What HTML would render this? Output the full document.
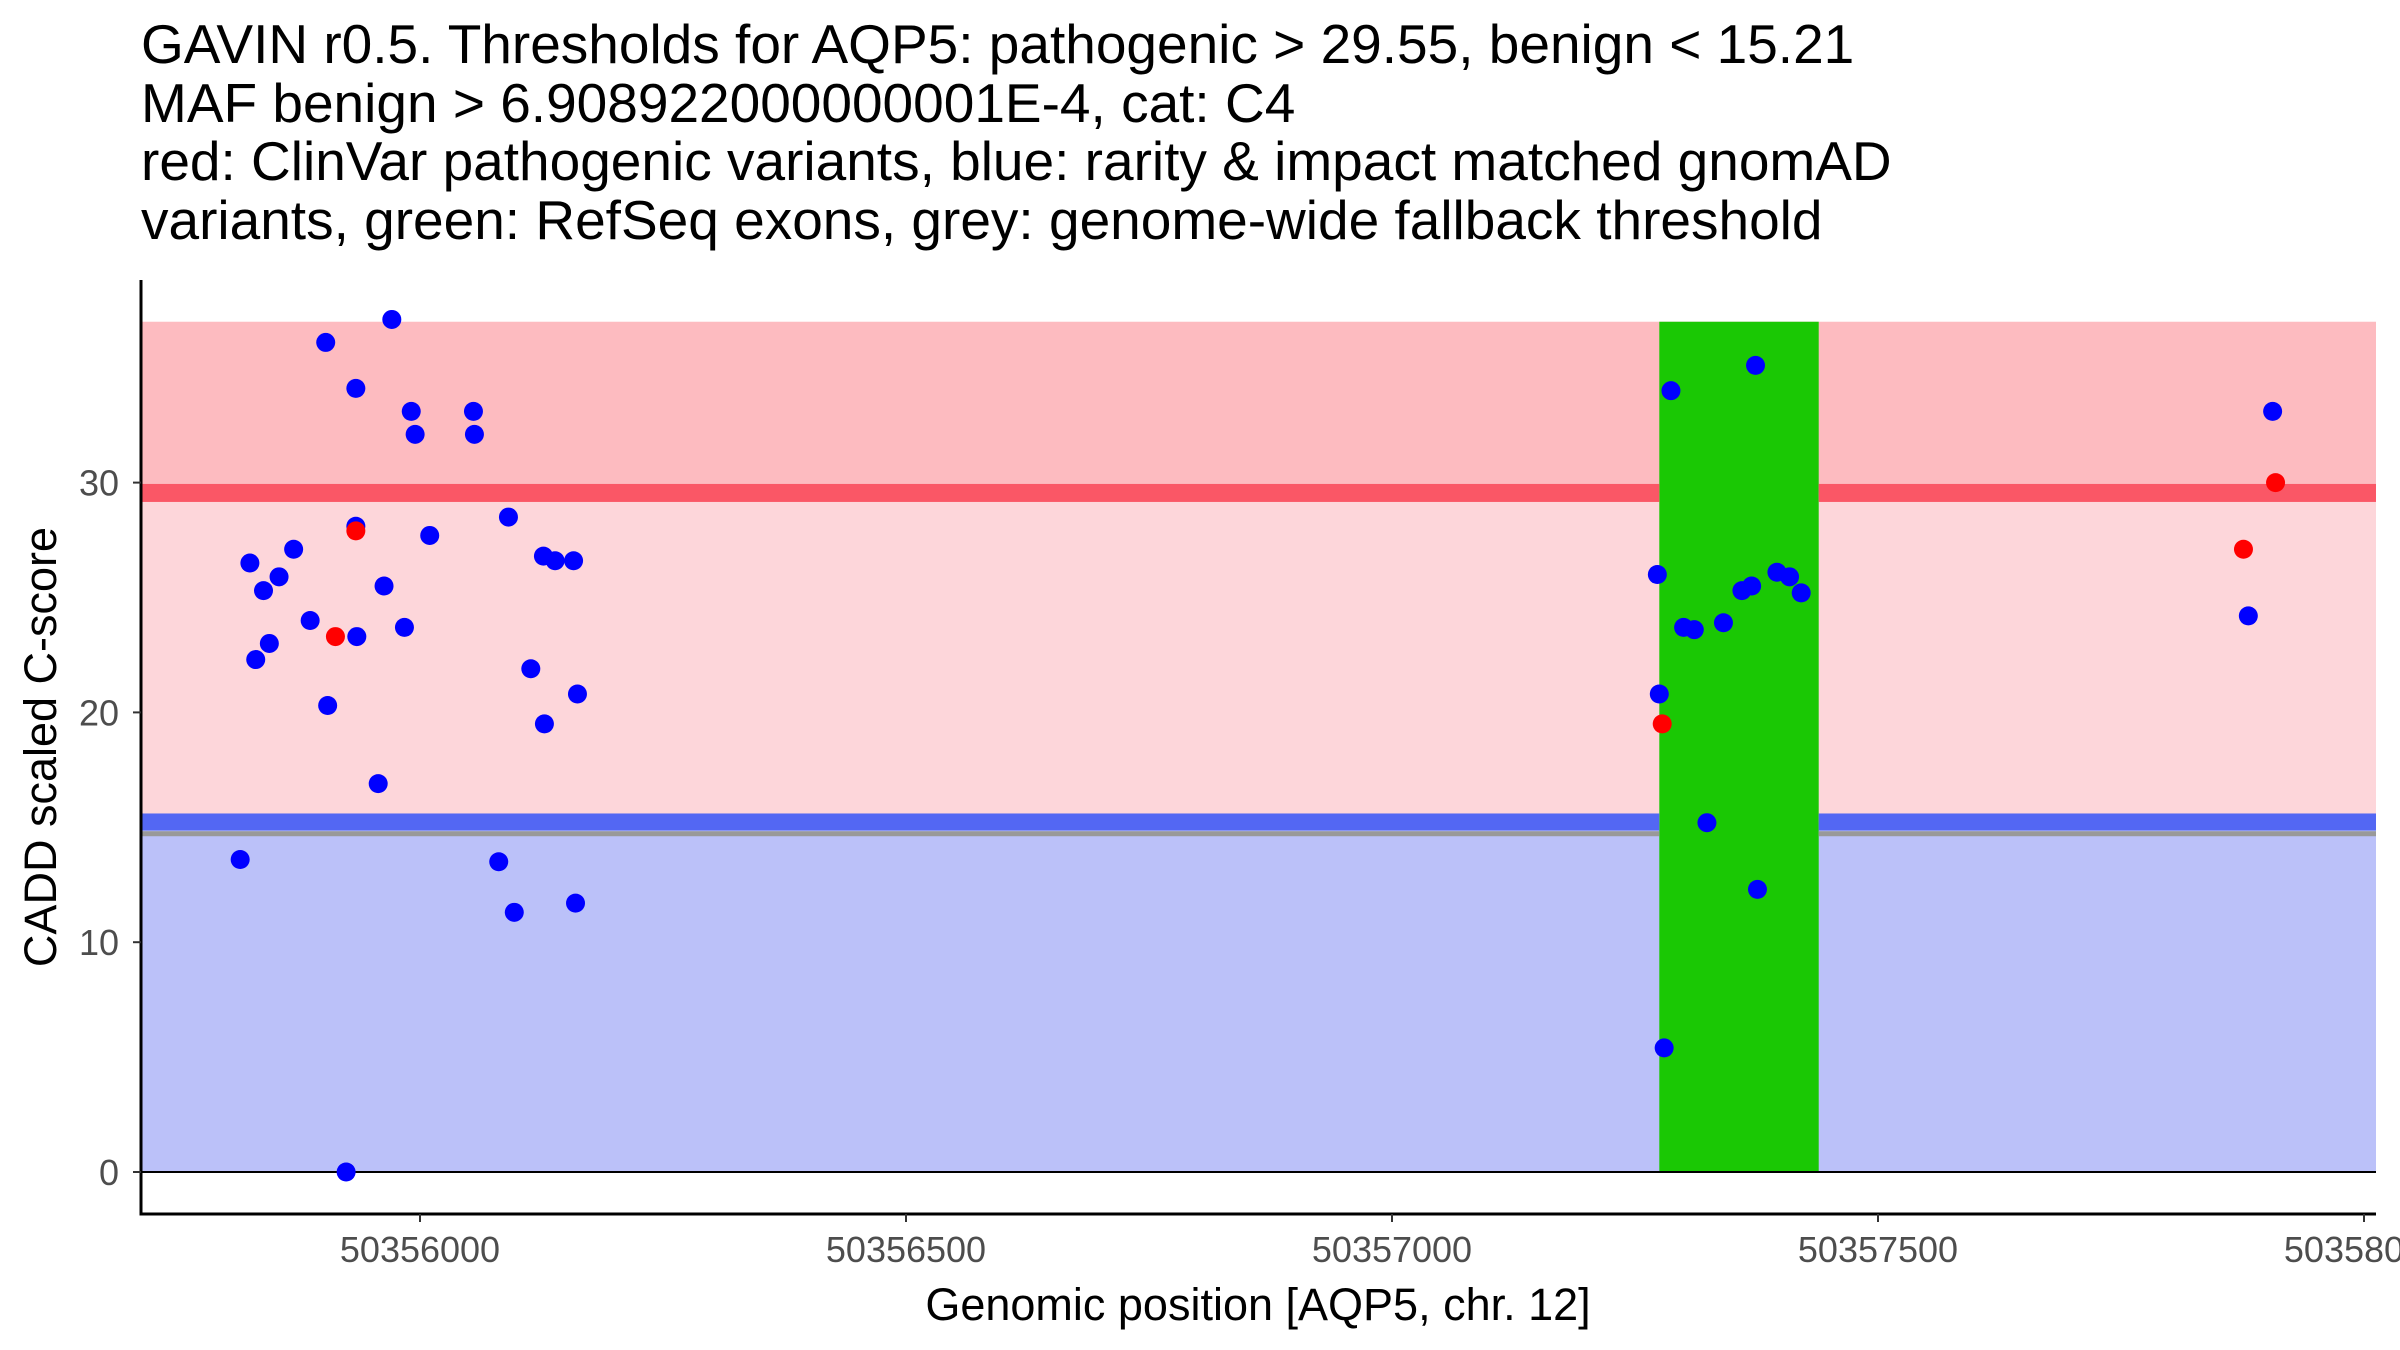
<!DOCTYPE html>
<html><head><meta charset="utf-8"><style>
html,body{margin:0;padding:0;background:#fff;}
svg{display:block;font-family:"Liberation Sans",Arial,sans-serif;}
</style></head><body>
<svg id="chart" width="2400" height="1350" viewBox="0 0 2400 1350" xmlns="http://www.w3.org/2000/svg">
<g font-size="55" fill="#000">
<text x="141" y="63">GAVIN r0.5. Thresholds for AQP5: pathogenic &gt; 29.55, benign &lt; 15.21</text>
<text x="141" y="122">MAF benign &gt; 6.908922000000001E-4, cat: C4</text>
<text x="141" y="180">red: ClinVar pathogenic variants, blue: rarity &amp; impact matched gnomAD</text>
<text x="141" y="239">variants, green: RefSeq exons, grey: genome-wide fallback threshold</text>
</g>
<g id="bands"></g>
<g id="points"></g>
<g id="axes"></g>
<text x="0" y="0" font-size="45" text-anchor="middle" transform="translate(56,747) rotate(-90)">CADD scaled C-score</text>
<text x="1258" y="1320" font-size="45" text-anchor="middle">Genomic position [AQP5, chr. 12]</text>
</svg>
<script>
const pathoThreshold = 29.55;
const benignThreshold = 15.21;
const fallbackThreshold = 14.72;
const yMax = 37;
const exonStart = 50357275;
const exonEnd = 50357439;
const xTicks = [50356000, 50356500, 50357000, 50357500, 50358000];
const xTickLabels = ["50356000", "50356500", "50357000", "50357500", "50358000"];
const yTicks = [0, 10, 20, 30];
const yTickLabels = ["0", "10", "20", "30"];
const benignPos = [50355815,50355825,50355831,50355839,50355845,50355855,50355870,50355887,50355903,50355905,50355924,50355934,50355934,50355935,50355957,50355963,50355971,50355984,50355991,50355995,50356010,50356055,50356056,50356081,50356091,50356097,50356114,50356127,50356128,50356139,50356158,50356160,50356162,
50357273,50357275,50357280,50357287,50357300,50357311,50357324,50357341,50357360,50357370,50357374,50357376,50357396,50357409,50357421,50357881,50357906];
const benignScore = [13.6,26.5,22.3,25.3,23.0,25.9,27.1,24.0,36.1,20.3,0,28.1,34.1,23.3,16.9,25.5,37.1,23.7,33.1,32.1,27.7,33.1,32.1,13.5,28.5,11.3,21.9,26.8,19.5,26.6,26.6,11.7,20.8,
26.0,20.8,5.4,34.0,23.7,23.6,15.2,23.9,25.3,25.5,35.1,12.3,26.1,25.9,25.2,24.2,33.1];
const pathoPos = [50355913,50355934,50357278,50357876,50357909];
const pathoScore = [23.3,27.9,19.5,27.1,30.0];

const NS="http://www.w3.org/2000/svg";
const X0=420, XS=0.972, Y0=1172, YS=22.98, PL=141, PR=2376, AXY=1214;
function xs(v){return X0+(v-50356000)*XS;}
function ys(v){return Y0-v*YS;}
function mk(tag,attrs,parent){const e=document.createElementNS(NS,tag);for(const k in attrs)e.setAttribute(k,attrs[k]);parent.appendChild(e);return e;}
const bands=document.getElementById('bands');
let r;
r=mk('rect',{x:PL,y:ys(yMax),width:PR-PL,height:ys(pathoThreshold)-ys(yMax),fill:'#FDBBC0'},bands);


r=mk('rect',{x:PL,y:ys(pathoThreshold),width:PR-PL,height:ys(benignThreshold)-ys(pathoThreshold),fill:'#FDD6DA'},bands);


r=mk('rect',{x:PL,y:ys(benignThreshold),width:PR-PL,height:ys(0)-ys(benignThreshold),fill:'#BBC1F9'},bands);


r=mk('rect',{x:xs(exonStart),y:ys(yMax),width:xs(exonEnd)-xs(exonStart),height:ys(0)-ys(yMax),fill:'#1AC804'},bands);


r=mk('rect',{x:PL,y:ys(pathoThreshold)-9,width:xs(exonStart)-PL,height:18,fill:'#FA5766'},bands);


r=mk('rect',{x:xs(exonEnd),y:ys(pathoThreshold)-9,width:PR-xs(exonEnd),height:18,fill:'#FA5766'},bands);


r=mk('rect',{x:PL,y:ys(benignThreshold)-9,width:xs(exonStart)-PL,height:17,fill:'#5367F3'},bands);


r=mk('rect',{x:xs(exonEnd),y:ys(benignThreshold)-9,width:PR-xs(exonEnd),height:17,fill:'#5367F3'},bands);


r=mk('rect',{x:PL,y:ys(fallbackThreshold)-2.5,width:xs(exonStart)-PL,height:5,fill:'#999999'},bands);


r=mk('rect',{x:xs(exonEnd),y:ys(fallbackThreshold)-2.5,width:PR-xs(exonEnd),height:5,fill:'#999999'},bands);


r=mk('line',{x1:PL,x2:PR,y1:ys(0),y2:ys(0),stroke:'#000','stroke-width':2},bands);



const pts=document.getElementById('points');
for(let i=0;i<benignPos.length;i++){
 const c=mk('circle',{cx:xs(benignPos[i]),cy:ys(benignScore[i]),r:9.5,fill:'#0000FF'},pts);
 
 
}
for(let i=0;i<pathoPos.length;i++){
 const c=mk('circle',{cx:xs(pathoPos[i]),cy:ys(pathoScore[i]),r:9.5,fill:'#FF0000'},pts);
 
 
}

const ax=document.getElementById('axes');
r=mk('line',{x1:PL,x2:PL,y1:280,y2:AXY+1.5,stroke:'#000','stroke-width':3},ax);


r=mk('line',{x1:PL-1.5,x2:PR,y1:AXY,y2:AXY,stroke:'#000','stroke-width':3},ax);


for(let i=0;i<yTicks.length;i++){
 const y=ys(yTicks[i]);
 const t=mk('line',{x1:PL-8,x2:PL,y1:y,y2:y,stroke:'#333','stroke-width':2},ax);
 
 
 const l=mk('text',{x:PL-22,y:y+13,'font-size':36,fill:'#4D4D4D','text-anchor':'end'},ax);
 l.textContent=yTickLabels[i];
 
 
}
for(let i=0;i<xTicks.length;i++){
 const x=xs(xTicks[i]);
 const t=mk('line',{x1:x,x2:x,y1:AXY,y2:AXY+8,stroke:'#333','stroke-width':2},ax);
 
 
 const l=mk('text',{x:x,y:AXY+48,'font-size':36,fill:'#4D4D4D','text-anchor':'middle'},ax);
 l.textContent=xTickLabels[i];
 
 
}
</script>
</body></html>
